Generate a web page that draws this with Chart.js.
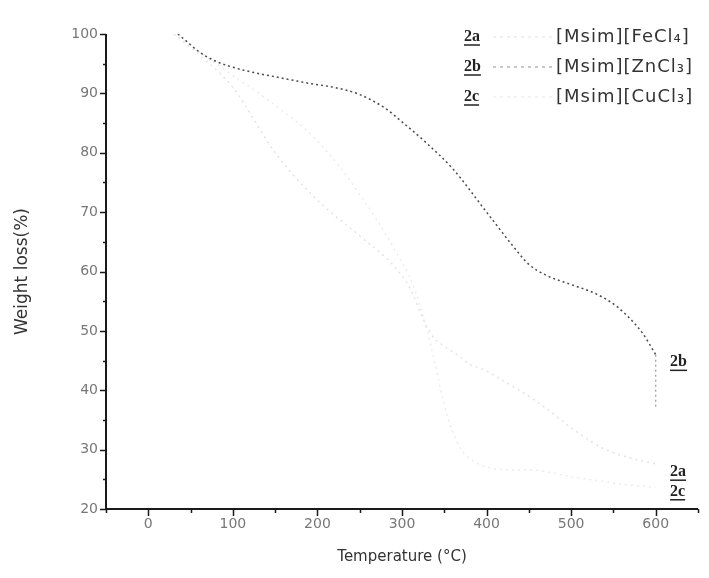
<!DOCTYPE html>
<html>
<head>
<meta charset="utf-8">
<script src="https://cdn.jsdelivr.net/npm/chart.js@4.4.0/dist/chart.umd.min.js"></script>
<style>
  html, body { margin: 0; padding: 0; background: #fff; }
</style>
</head>
<body>
<canvas id="myChart" width="709" height="578"></canvas>
<script>
// TGA data (temperature in C, weight in %)
const temp2a = [30, 60, 100, 150, 200, 250, 290, 310, 322, 335, 350, 365, 380, 395, 415, 435, 450, 470, 495, 515, 535, 560, 580, 600]
const weight2a = [100, 96.5, 91, 80, 72, 66, 61, 57, 53, 49.3, 47.4, 46, 44.4, 43.6, 42, 40.3, 39, 37, 34.2, 32.2, 30.4, 29, 28.2, 27.6]

const temp2b = [35, 45, 60, 80, 100, 125, 150, 190, 220, 250, 280, 300, 330, 360, 400, 430, 450, 470, 500, 530, 555, 570, 585, 600]
const weight2b = [100, 98.8, 97, 95.4, 94.4, 93.5, 92.8, 91.7, 91, 89.8, 87.5, 85.2, 81.5, 77.3, 70, 64.5, 61.2, 59.4, 57.8, 56.2, 54, 52, 49.5, 46]
// end of run: trace drops straight down at 600 C
const drop2b = 37

const temp2c = [30, 60, 100, 150, 200, 250, 290, 315, 335, 350, 360, 370, 385, 405, 430, 460, 480, 505, 530, 560, 600]
const weight2c = [100, 97, 93, 88, 82, 73, 64, 57, 47, 37.5, 33, 30, 28, 26.9, 26.6, 26.5, 26, 25.3, 24.8, 24.2, 23.6]

const sampleNames = ['2a', '2b', '2c']
const sampleLabels = ['[Msim][FeCl₄]', '[Msim][ZnCl₃]', '[Msim][CuCl₃]']
const xTickLabels = [0, 100, 200, 300, 400, 500, 600]
const yTickLabels = [20, 30, 40, 50, 60, 70, 80, 90, 100]

const toPoints = (xs, ys) => xs.map((v, i) => ({ x: v, y: ys[i] }))

const lineStyles = [
  { borderColor: '#e3e3e3', borderDash: [2, 4], borderWidth: 1.5 },
  { borderColor: '#4a4a4a', borderDash: [2, 3], borderWidth: 1.5 },
  { borderColor: '#ececec', borderDash: [2, 4], borderWidth: 1.5 },
]
const legendColors = ['#ececec', '#b5b5b5', '#f0f0f0']

const datasets = [
  toPoints(temp2a, weight2a),
  toPoints(temp2b, weight2b),
  toPoints(temp2c, weight2c),
].map((pts, i) => ({
  label: sampleNames[i],
  data: pts,
  showLine: true,
  pointRadius: 0,
  cubicInterpolationMode: 'monotone',
  ...lineStyles[i],
}))

const last2b = temp2b.length - 1
datasets.push({
  label: '2b drop',
  data: [
    { x: temp2b[last2b], y: weight2b[last2b] },
    { x: temp2b[last2b], y: drop2b },
  ],
  showLine: true,
  pointRadius: 0,
  borderColor: '#9a9a9a',
  borderDash: [2, 3],
  borderWidth: 1.2,
})

// axis lines with long major / short minor ticks
const axesPlugin = {
  id: 'axes',
  afterDatasetsDraw(chart) {
    const { ctx, chartArea: a, scales: { x, y } } = chart
    ctx.save()
    ctx.strokeStyle = '#1a1a1a'
    ctx.lineWidth = 2
    ctx.beginPath()
    ctx.moveTo(a.left, a.top)
    ctx.lineTo(a.left, a.bottom)
    ctx.lineTo(a.right, a.bottom)
    ctx.stroke()
    ctx.lineWidth = 1.5
    ctx.beginPath()
    x.ticks.forEach((t) => {
      const px = Math.round(x.getPixelForValue(t.value)) + 0.5
      const len = t.value % 100 === 0 ? 7 : 4
      ctx.moveTo(px, a.bottom)
      ctx.lineTo(px, a.bottom + len)
    })
    for (let v = 20; v <= 100; v += 5) {
      const py = Math.round(y.getPixelForValue(v)) + 0.5
      const len = v % 10 === 0 ? 6 : 3
      ctx.moveTo(a.left, py)
      ctx.lineTo(a.left - len, py)
    }
    ctx.stroke()
    ctx.restore()
  },
}

// legend in the top right and sample names at the curve ends
const labelPlugin = {
  id: 'labels',
  afterDraw(chart) {
    const { ctx, scales: { x, y } } = chart
    const drawName = (txt, px, py) => {
      ctx.font = 'bold 16px "Liberation Serif"'
      ctx.fillStyle = '#222'
      ctx.textAlign = 'left'
      ctx.textBaseline = 'middle'
      ctx.fillText(txt, px, py)
      const w = ctx.measureText(txt).width
      ctx.strokeStyle = '#222'
      ctx.lineWidth = 1.5
      ctx.setLineDash([])
      ctx.beginPath()
      ctx.moveTo(px, py + 8)
      ctx.lineTo(px + w, py + 8)
      ctx.stroke()
    }
    ctx.save()
    const rows = [37, 67, 97]
    rows.forEach((ry, i) => {
      drawName(sampleNames[i], 464, ry)
      ctx.strokeStyle = legendColors[i]
      ctx.lineWidth = 1.5
      ctx.setLineDash([3, 4])
      ctx.beginPath()
      ctx.moveTo(493, ry)
      ctx.lineTo(552, ry)
      ctx.stroke()
      ctx.setLineDash([])
      ctx.font = '18px "DejaVu Sans"'
      ctx.letterSpacing = '1px'
      ctx.fillStyle = '#333'
      ctx.fillText(sampleLabels[i], 556, ry)
      ctx.letterSpacing = '0px'
    })
    const endY = [26.2, 44.7, 22.9]
    endY.forEach((v, i) => {
      drawName(sampleNames[i], x.getPixelForValue(617), y.getPixelForValue(v))
    })
    ctx.restore()
  },
}

const config = {
  type: 'scatter',
  data: { datasets: datasets },
  options: {
    responsive: false,
    animation: false,
    devicePixelRatio: 1,
    layout: { padding: { top: 34, right: 11, left: 0, bottom: 0 } },
    plugins: {
      legend: { display: false },
      tooltip: { enabled: false },
    },
    scales: {
      x: {
        type: 'linear',
        min: -50,
        max: 650,
        grid: { display: false, drawTicks: false },
        border: { display: false },
        ticks: {
          stepSize: 50,
          padding: 7,
          maxRotation: 0,
          autoSkip: false,
          color: '#777',
          font: { family: 'DejaVu Sans', size: 14 },
          callback: (v) => (xTickLabels.includes(v) ? String(v) : ''),
        },
        title: {
          display: true,
          text: 'Temperature (°C)',
          color: '#333',
          font: { family: 'DejaVu Sans', size: 15 },
          padding: { top: 0, bottom: 12 },
        },
        afterFit: (s) => { s.height = 69 },
      },
      y: {
        min: 20,
        max: 100,
        grid: { display: false, drawTicks: false },
        border: { display: false },
        ticks: {
          stepSize: 10,
          padding: 8,
          color: '#777',
          font: { family: 'DejaVu Sans', size: 14 },
          callback: (v) => (yTickLabels.includes(v) ? String(v) : ''),
        },
        title: {
          display: true,
          text: 'Weight loss(%)',
          color: '#333',
          font: { family: 'DejaVu Sans', size: 17 },
          padding: { top: 12, bottom: 0 },
        },
        afterFit: (s) => { s.width = 106 },
      },
    },
  },
  plugins: [axesPlugin, labelPlugin],
}

const myChart = new Chart(document.getElementById('myChart'), config)
</script>
</body>
</html>
